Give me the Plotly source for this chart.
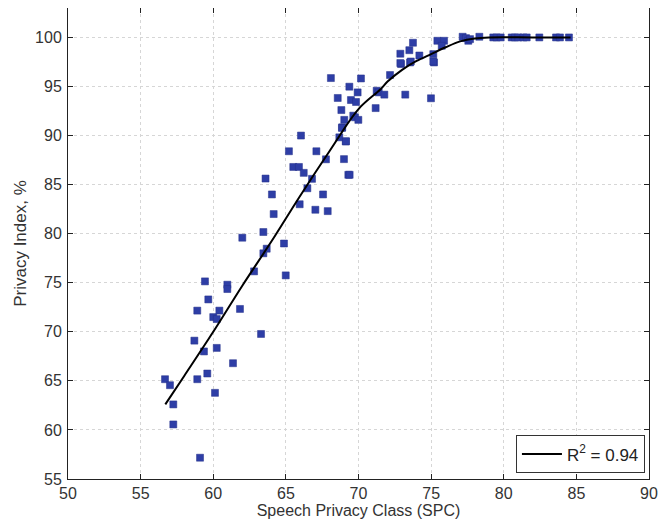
import plotly.graph_objects as go

# Measured data points (Speech Privacy Class vs Privacy Index)
spc = [56.68, 57.02, 57.25, 57.25, 59.09, 58.70, 58.90, 58.90, 59.43, 59.66,
       59.36, 59.59, 60.00, 60.24, 60.42, 60.24, 60.12, 60.97, 60.97, 61.36,
       61.84, 62.81, 63.29, 64.99, 62.00, 63.45, 63.45, 63.68, 64.87, 63.60,
       64.04, 64.16, 65.21, 65.51, 65.90, 66.04, 66.23, 66.80, 66.48, 65.95,
       67.10, 67.56, 67.76, 67.03, 67.88, 69.00, 69.30, 69.12, 68.88, 68.10,
       70.17, 69.37, 68.57, 69.94, 69.48, 69.83, 68.82, 69.02, 69.64, 69.76,
       69.99, 68.86, 68.68, 69.14, 69.39, 71.25, 71.39, 71.78, 71.18, 72.17,
       73.22, 74.99, 72.93, 73.55, 75.20, 72.88, 72.88, 73.50, 73.60, 73.75,
       74.19, 75.15, 75.15, 75.43, 75.89, 75.73, 77.17, 77.40, 77.56, 77.68,
       78.32, 79.28, 79.51, 79.79, 80.55, 80.77, 81.00, 81.35, 81.58, 82.45,
       83.60, 83.87, 84.49]
privacy = [65.17, 64.56, 62.60, 60.56, 57.17, 69.10, 72.16, 65.17, 75.14, 73.30,
           68.00, 65.75, 71.50, 71.30, 72.16, 68.36, 63.78, 74.80, 74.36, 66.80,
           72.33, 76.16, 69.78, 75.75, 79.59, 80.17, 78.00, 78.47, 79.00, 85.62,
           84.00, 82.00, 88.40, 86.80, 86.80, 90.00, 86.20, 85.59, 84.63, 83.00,
           88.40, 84.00, 87.58, 82.44, 82.30, 87.60, 86.00, 89.40, 90.84, 95.86,
           95.82, 94.98, 93.83, 94.40, 93.62, 93.42, 92.60, 91.60, 92.03, 91.86,
           91.60, 90.78, 89.82, 89.42, 86.00, 94.57, 94.40, 94.17, 92.80, 96.17,
           94.17, 93.80, 97.29, 97.45, 97.45, 98.34, 97.39, 98.70, 97.55, 99.46,
           98.16, 98.30, 97.55, 99.66, 99.66, 99.15, 100.07, 99.93, 99.66, 99.83,
           100.07, 100.0, 100.0, 100.0, 100.0, 100.0, 100.0, 100.0, 100.0, 100.0,
           100.0, 100.0, 100.0]

# Fitted curve
fit_x = [56.7, 58.0, 60.0, 62.0, 64.0, 66.0, 68.0, 70.0, 71.5, 72.0, 73.0,
         74.0, 75.0, 76.0, 77.0, 78.0, 79.0, 82.0, 84.6]
fit_y = [62.6, 65.5, 70.0, 74.7, 79.2, 83.9, 88.4, 92.7, 94.7, 95.5, 96.7,
         97.6, 98.3, 99.0, 99.6, 99.9, 100.0, 100.0, 100.0]
fit_label = "R<sup>2</sup> = 0.94"

x_ticks = [50, 55, 60, 65, 70, 75, 80, 85, 90]
y_ticks = [55, 60, 65, 70, 75, 80, 85, 90, 95, 100]

FONT = "Liberation Sans, Arial, sans-serif"

fig = go.Figure()
fig.add_trace(go.Scatter(
    x=spc, y=privacy, mode="markers", showlegend=False,
    marker=dict(symbol="square", size=7, color="#2e3ea6",
                line=dict(width=0.5, color="#24318a")),
))
fig.add_trace(go.Scatter(
    x=fit_x, y=fit_y, mode="lines", name=fit_label,
    line=dict(color="black", width=2, shape="spline"),
))

axis_common = dict(
    showline=True, linecolor="#222", linewidth=1, mirror="ticks",
    ticks="inside", ticklen=5, tickcolor="#222",
    showgrid=True, gridcolor="#d6d6d6", griddash="dot", gridwidth=1,
    zeroline=False, tickfont=dict(size=16, color="#333", family=FONT),
)

fig.update_xaxes(range=[50, 90], tickvals=x_ticks,
                 title=dict(text="Speech Privacy Class (SPC)", standoff=0,
                            font=dict(size=16, color="#333", family=FONT)),
                 **axis_common)
fig.update_yaxes(range=[55, 103], tickvals=y_ticks, ticklabelstandoff=2,
                 title=dict(text="Privacy Index, %", standoff=4,
                            font=dict(size=17, color="#333", family=FONT)),
                 **axis_common)

fig.update_layout(
    width=669, height=525,
    margin=dict(l=60, r=28, t=0, b=54),
    plot_bgcolor="white", paper_bgcolor="white",
    legend=dict(x=0.993, y=0.012, xanchor="right", yanchor="bottom",
                bgcolor="white", bordercolor="#333", borderwidth=1,
                font=dict(size=17, color="#222", family=FONT),
                itemwidth=40, tracegroupgap=0),
)

fig.write_html("out.html")
